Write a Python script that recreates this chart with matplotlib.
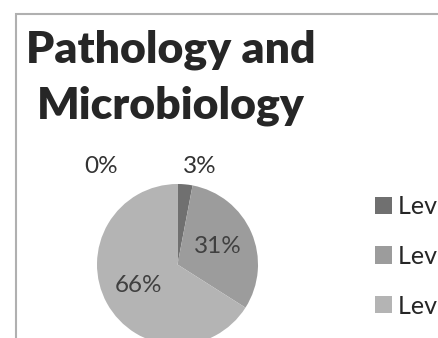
import matplotlib
matplotlib.use("Agg")
import matplotlib.pyplot as plt
from matplotlib.patches import Rectangle

title_lines = ["Pathology and", "Microbiology"]
levels = ["Level 4", "Level 1", "Level 2", "Level 3"]
shares = [0, 3, 31, 66]
colors = ["#5a5a5a", "#707070", "#9c9c9c", "#b4b4b4"]

plt.rcParams["font.family"] = ["Lato", "DejaVu Sans"]

fig = plt.figure(figsize=(4.39, 3.38), dpi=100)

# scanned chart frame
fig.patches.append(Rectangle((16 / 439, -0.1), 1.2, 1 - 14 / 338 + 0.1,
                             transform=fig.transFigure, fill=False,
                             edgecolor="#b0b0b0", linewidth=1.5))

for i, line in enumerate(title_lines):
    fig.text(171 / 439, 1 - (63 + 55 * i) / 338, line, fontsize=32,
             fontweight="heavy", color="#262626", va="baseline", ha="center")

ax = fig.add_axes([97 / 439, -7 / 338, 161 / 439, 161 / 338])
wedges, texts, autotexts = ax.pie(shares, colors=colors, startangle=90,
                                  counterclock=False, autopct="%d%%",
                                  pctdistance=0.55,
                                  textprops=dict(fontsize=17.5, color="#404040"))
ax.set_xlim(-1, 1)
ax.set_ylim(-1, 1)
ax.set_aspect("equal")

# small slices get their labels outside, like Excel does
autotexts[0].set_position((-0.95, 1.22))
autotexts[1].set_position((0.28, 1.22))
autotexts[0].set_color("#333333")
autotexts[1].set_color("#333333")
for t in autotexts:
    t.set_clip_on(False)
for w in wedges:
    w.set_clip_on(False)

fig.legend(wedges[1:], levels[1:], loc="upper left",
           bbox_to_anchor=(375 / 439, 1 - 195 / 338), frameon=False,
           borderpad=0, borderaxespad=0,
           fontsize=18, labelcolor="#262626", handlelength=0.68,
           handleheight=0.68, handletextpad=0.25, labelspacing=1.07)

fig.savefig("out.png", dpi=100)
